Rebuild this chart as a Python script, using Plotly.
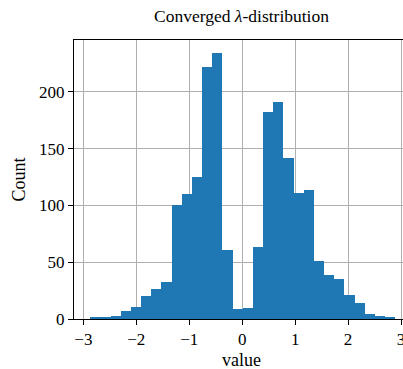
import numpy as np
import plotly.graph_objects as go

# Histogram: 30 equal bins between these limits
bin_start = -2.87
bin_end = 2.89
counts = [1, 1, 3, 7, 11, 20, 26, 33, 100, 110, 125, 222, 234, 61, 9,
          10, 63, 182, 191, 142, 111, 114, 51, 39, 35, 21, 14, 4, 3, 2]
x_ticks = [-3, -2, -1, 0, 1, 2, 3]
y_ticks = [0, 50, 100, 150, 200]

edges = np.linspace(bin_start, bin_end, len(counts) + 1)
centers = (edges[:-1] + edges[1:]) / 2
width = edges[1] - edges[0]

font = "Liberation Serif"
L, T, B = 74, 40, 50
W, H = 403, 369
pw, ph = W - L, H - T - B

fig = go.Figure(go.Bar(
    x=centers, y=counts, width=width,
    marker=dict(color="#1f77b4", line=dict(width=0)),
))
fig.update_layout(
    width=W, height=H,
    margin=dict(l=L, r=0, t=T, b=B, autoexpand=False),
    plot_bgcolor="white", paper_bgcolor="white",
    font=dict(family=font, size=17, color="black"),
    showlegend=False,
    bargap=0,
    annotations=[
        dict(text="Converged <i>λ</i>-distribution", xref="paper", yref="paper",
             x=(241 - L) / pw, y=1 + (T - 16) / ph, xanchor="center", yanchor="middle",
             showarrow=False, font=dict(size=17.5)),
        dict(text="value", xref="paper", yref="paper",
             x=(241 - L) / pw, y=-(360 - (T + ph)) / ph, xanchor="center", yanchor="middle",
             showarrow=False, font=dict(size=18)),
        dict(text="Count", xref="paper", yref="paper", textangle=-90,
             x=(18 - L) / pw, y=0.5, xanchor="center", yanchor="middle",
             showarrow=False, font=dict(size=18)),
    ],
)
fig.update_xaxes(
    range=[-3.177, 3.037], tickvals=x_ticks,
    ticktext=[str(v).replace("-", "\u2212") for v in x_ticks],
    ticklabeloverflow="allow",
    showgrid=True, gridcolor="#b0b0b0", gridwidth=0.8,
    showline=True, linecolor="black", linewidth=1, mirror=True,
    ticks="outside", ticklen=5, tickcolor="black",
    zeroline=False, automargin=False,
)
fig.update_yaxes(
    range=[0, 245.7], tickvals=y_ticks,
    showgrid=True, gridcolor="#b0b0b0", gridwidth=0.8,
    showline=True, linecolor="black", linewidth=1, mirror=False,
    ticks="outside", ticklen=5, tickcolor="black",
    zeroline=False, automargin=False,
)
fig.write_html("out.html", config={"displayModeBar": False},
               post_script="document.body.style.margin='0';document.body.style.overflow='hidden';")
